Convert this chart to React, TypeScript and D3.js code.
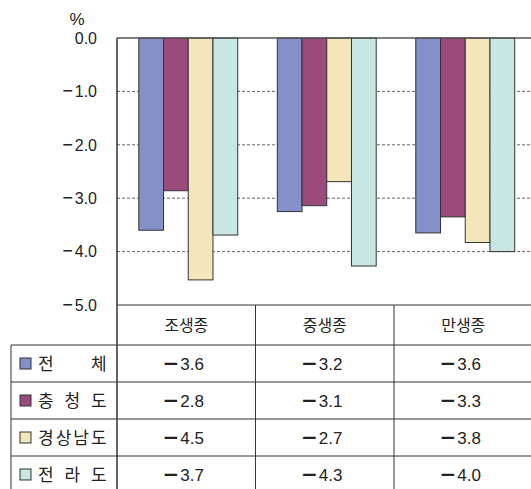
import React, { useEffect, useRef } from 'react';
import * as d3 from 'd3';

// data
const categories = ['조생종', '중생종', '만생종'];
const seriesNames = ['전 체', '충 청 도', '경상남도', '전 라 도'];
const seriesColors = ['#8490c8', '#9b4b7b', '#f2e6ba', '#c8e6e4'];
// bar values per category (same order as seriesNames)
const earlyValues = [-3.6, -2.86, -4.53, -3.69];
const midValues = [-3.25, -3.14, -2.69, -4.27];
const lateValues = [-3.65, -3.35, -3.83, -4.0];
// table labels as printed
const earlyLabels = ['−3.6', '−2.8', '−4.5', '−3.7'];
const midLabels = ['−3.2', '−3.1', '−2.7', '−4.3'];
const lateLabels = ['−3.6', '−3.3', '−3.8', '−4.0'];
const yTicks = [0, -1, -2, -3, -4, -5];

const W = 531;
const H = 489;
const FONT = '"Liberation Sans", "Noto Sans CJK KR", sans-serif';
const MINUS_FONT = '"DejaVu Sans", sans-serif';

export default function App() {
  const node = useRef<SVGSVGElement>(null);

  useEffect(() => {
    const svg = d3.select(node.current);
    svg.selectAll('*').remove();

    const left = 117;
    const top = 38;
    const bottom = 305;
    const colW = 138.5;
    const rowH = 37;
    const headerBottom = 345;
    const legendLeft = 11;

    const values = [earlyValues, midValues, lateValues];
    const labels = [earlyLabels, midLabels, lateLabels];

    const y = d3.scaleLinear().domain([-5, 0]).range([bottom, top]);
    const x0 = d3.scaleBand().domain(categories).range([left, left + colW * 3]);
    const x1 = d3.scaleBand()
      .domain(seriesNames)
      .range([0, x0.bandwidth()])
      .paddingInner(0)
      .paddingOuter(0.8);

    // dashed grid lines
    svg.append('g')
      .selectAll('line')
      .data(yTicks.filter(t => t < 0 && t > -5))
      .enter().append('line')
      .attr('x1', left).attr('x2', W)
      .attr('y1', d => y(d)).attr('y2', d => y(d))
      .attr('stroke', '#666')
      .attr('stroke-width', 1)
      .attr('stroke-dasharray', '3,2');

    // bars
    const groups = svg.append('g')
      .selectAll('g')
      .data(categories)
      .enter().append('g')
      .attr('transform', d => 'translate(' + (x0(d)! + 2) + ',0)');

    groups.selectAll('rect')
      .data((d, i) => values[i].map((v, j) => ({ name: seriesNames[j], value: v, color: seriesColors[j] })))
      .enter().append('rect')
      .attr('x', d => x1(d.name)!)
      .attr('width', x1.bandwidth())
      .attr('y', y(0))
      .attr('height', d => y(d.value) - y(0))
      .attr('fill', d => d.color)
      .attr('stroke', '#333')
      .attr('stroke-width', 1);

    // top (0.0) line
    svg.append('line')
      .attr('x1', left).attr('x2', W)
      .attr('y1', y(0)).attr('y2', y(0))
      .attr('stroke', '#555').attr('stroke-width', 1.5);

    // y labels
    const ticks = svg.append('g')
      .selectAll('text')
      .data(yTicks)
      .enter().append('text')
      .attr('x', 97)
      .attr('y', d => y(d) + 5.8)
      .attr('text-anchor', 'end')
      .style('font-family', FONT)
      .style('font-size', '16px')
      .attr('fill', '#222');
    ticks.filter(d => d < 0).append('tspan')
      .attr('dy', -2)
      .style('font-family', MINUS_FONT)
      .style('font-size', '14px')
      .style('font-weight', 'bold')
      .text('−');
    ticks.append('tspan')
      .attr('dx', d => (d < 0 ? 1 : 0))
      .attr('dy', d => (d < 0 ? 2 : 0))
      .text(d => d3.format('.1f')(Math.abs(d)));

    svg.append('text')
      .attr('x', 77).attr('y', 25)
      .attr('text-anchor', 'middle')
      .style('font-family', FONT)
      .style('font-size', '17px')
      .attr('fill', '#222')
      .text('%');

    // table lines
    const lines = svg.append('g').attr('stroke', '#333').attr('stroke-width', 1);
    lines.append('line').attr('x1', left).attr('x2', W).attr('y1', bottom).attr('y2', bottom);
    d3.range(4).forEach(i => {
      const yy = headerBottom + i * rowH;
      lines.append('line').attr('x1', legendLeft).attr('x2', W).attr('y1', yy).attr('y2', yy);
    });
    lines.append('line').attr('x1', legendLeft).attr('x2', legendLeft).attr('y1', headerBottom).attr('y2', H);
    lines.append('line').attr('x1', left).attr('x2', left).attr('y1', top).attr('y2', H)
      .attr('stroke-width', 1.5);
    [1, 2].forEach(i => {
      const xx = x0(categories[i])!;
      lines.append('line').attr('x1', xx).attr('x2', xx).attr('y1', bottom).attr('y2', H);
    });

    // header row
    svg.append('g')
      .selectAll('text')
      .data(categories)
      .enter().append('text')
      .attr('x', d => x0(d)! + x0.bandwidth() / 2)
      .attr('y', (bottom + headerBottom) / 2)
      .attr('dy', '0.36em')
      .attr('text-anchor', 'middle')
      .style('font-family', FONT)
      .style('font-size', '16px')
      .attr('fill', '#222')
      .text(d => d);

    // value cells (wide, heavy minus like the original)
    categories.forEach((c, i) => {
      const cells = svg.append('g')
        .selectAll('text')
        .data(labels[i])
        .enter().append('text')
        .attr('x', x0(c)! + x0.bandwidth() / 2 - 3)
        .attr('y', (d, j) => headerBottom + j * rowH + rowH / 2 + 6.5)
        .attr('text-anchor', 'middle')
        .style('font-family', FONT)
        .style('font-size', '17px')
        .attr('fill', '#222');
      cells.append('tspan')
        .style('font-family', MINUS_FONT)
        .style('font-size', '20px')
        .style('font-weight', 'bold')
        .text(d => d.slice(0, 1));
      cells.append('tspan')
        .attr('dx', 1)
        .text(d => d.slice(1));
    });

    // legend column: colour box + justified label
    seriesNames.forEach((name, j) => {
      const cy = headerBottom + j * rowH + rowH / 2;
      svg.append('rect')
        .attr('x', 20).attr('y', cy - 5.5)
        .attr('width', 11).attr('height', 11)
        .attr('fill', seriesColors[j])
        .attr('stroke', '#333').attr('stroke-width', 1);

      const chars = name.replace(/ /g, '').split('');
      const cw = 17;
      const x = d3.scaleLinear().domain([0, chars.length - 1]).range([38, 108 - cw]);
      svg.append('g')
        .selectAll('text')
        .data(chars)
        .enter().append('text')
        .attr('x', (d, k) => x(k))
        .attr('y', cy)
        .attr('dy', '0.36em')
        .style('font-family', FONT)
        .style('font-size', '17px')
        .attr('fill', '#222')
        .text(d => d);
    });
  }, []);

  return (
    <svg
      ref={node}
      width={W}
      height={H}
      style={{ position: 'absolute', left: 0, top: 0, background: '#fff' }}
    />
  );
}
